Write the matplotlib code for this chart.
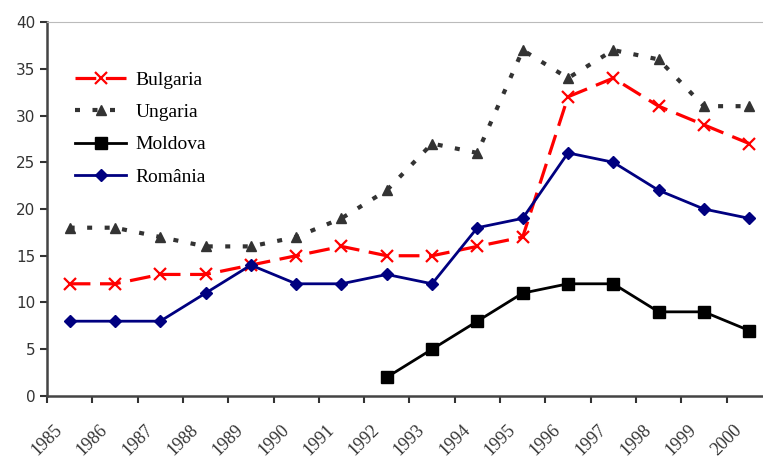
import matplotlib.pyplot as plt
import numpy as np

years = [str(y) for y in range(1985, 2001)]
bulgaria = [12, 12, 13, 13, 14, 15, 16, 15, 15, 16, 17, 32, 34, 31, 29, 27]
ungaria = [18, 18, 17, 16, 16, 17, 19, 22, 27, 26, 37, 34, 37, 36, 31, 31]
moldova_years = years[7:]
moldova = [2, 5, 8, 11, 12, 12, 9, 9, 7]
romania = [8, 8, 8, 11, 14, 12, 12, 13, 12, 18, 19, 26, 25, 22, 20, 19]

x = np.arange(len(years))
xm = np.arange(7, 16)

fig = plt.figure(figsize=(7.63, 4.59), dpi=100)
ax = fig.add_axes([0.0616, 0.1373, 0.95, 0.8147])

ax.plot(x, bulgaria, color='#ff0000', lw=2.3, dashes=(6.5, 3), marker='x',
        ms=9, mew=1.6, label='Bulgaria')
ax.plot(x, ungaria, color='#333333', lw=3, dashes=(1.2, 3), marker='^',
        ms=7.5, label='Ungaria')
ax.plot(xm, moldova, color='black', lw=2, marker='s', ms=8, label='Moldova')
ax.plot(x, romania, color='#000080', lw=2, marker='D', ms=6, label='România')

ax.set_xlim(-0.5, 15.5)
ax.set_ylim(0, 40)
ax.set_yticks(range(0, 41, 5))
ax.set_xticks(np.arange(-0.5, 15.5, 1))
ax.set_xticklabels(years, rotation=45, ha='center', va='center', fontsize=13,
                   family='Liberation Serif', color='#333333')
ax.tick_params(axis='y', labelsize=11, colors='#333333', length=5, width=1.5)
ax.tick_params(axis='x', length=5, width=1.5, color='#333333', pad=27)

for s in ['left', 'bottom']:
    ax.spines[s].set_color('#444444')
    ax.spines[s].set_linewidth(1.8)
ax.spines['top'].set_color('#bbbbbb')
ax.spines['right'].set_visible(False)

ax.legend(loc='upper left', bbox_to_anchor=(0.039, 0.868), frameon=False,
          prop={'family': 'Liberation Serif', 'size': 14},
          borderpad=0, borderaxespad=0,
          handlelength=2.6, labelspacing=0.75, handletextpad=0.5)

fig.savefig('out.png', dpi=100)
